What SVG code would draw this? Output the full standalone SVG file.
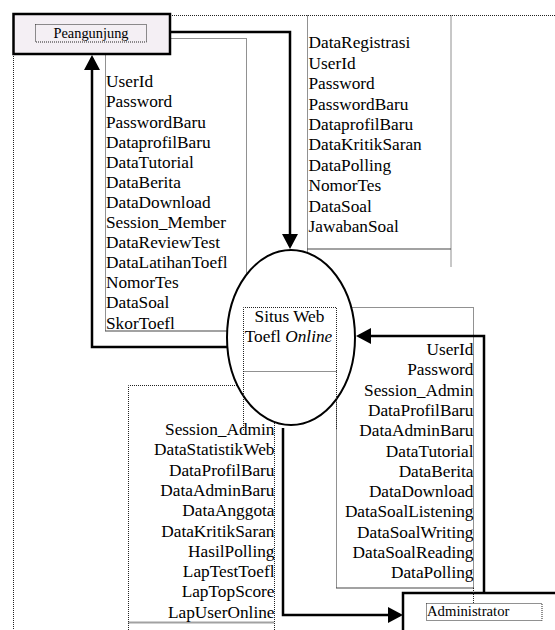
<svg xmlns="http://www.w3.org/2000/svg" width="555" height="630" viewBox="0 0 555 630">
<style>
.dot{fill:none;stroke:#222;stroke-width:1;stroke-dasharray:1 1}
.dotb{fill:none;stroke:#444;stroke-width:2;stroke-dasharray:1 1}
.flow{fill:none;stroke:#000;stroke-width:2.5;marker-end:url(#ah)}
.lbl{font-family:"Liberation Serif","Times New Roman",serif;font-size:17.3px;fill:#000}
.r{text-anchor:end}
.m{text-anchor:middle}
.ent{font-family:"Liberation Serif","Times New Roman",serif;fill:#000}
</style>
<defs>
<marker id="ah" markerUnits="userSpaceOnUse" markerWidth="16" markerHeight="16" refX="12" refY="8" orient="auto">
<path d="M0,0 L15,8 L0,16 Z" fill="#000"/>
</marker>
</defs>
<rect width="555" height="630" fill="#fff"/>

<g id="frames">
<line class="dot" x1="170" y1="15.5" x2="555" y2="15.5"/>
<line class="dot" x1="307.5" y1="15.5" x2="307.5" y2="257"/>
<line class="dot" x1="451" y1="15.5" x2="451" y2="267"/>
<line class="dotb" x1="307.5" y1="249" x2="451" y2="249"/>
<line class="dot" x1="13.5" y1="54" x2="13.5" y2="630"/>
<path class="dot" d="M105.5,38.5 H246.5 V331 M105.5,38.5 V331"/>
<line class="dotb" x1="105.5" y1="331" x2="246.5" y2="331"/>
<path class="dot" d="M128.5,630 V385.5 H274.5 V630"/>
<line class="dotb" x1="128.5" y1="622.5" x2="274.5" y2="622.5"/>
<path class="dot" d="M336.5,307.5 H473.5 V588 M336.5,307.5 V588"/>
<line class="dotb" x1="336.5" y1="588" x2="473.5" y2="588"/>
</g>

<g id="process">
<ellipse cx="291" cy="337.5" rx="64" ry="87.5" fill="#fff" stroke="#000" stroke-width="2"/>
<path class="dot" d="M243.5,430 V307.5 H336.5 V430"/>
<line class="dot" x1="243.5" y1="371.5" x2="336.5" y2="371.5"/>
<text class="lbl m" x="289.5" y="321.7">Situs Web</text>
<text class="lbl m" x="288.5" y="341.7">Toefl <tspan font-style="italic">Online</tspan></text>
</g>

<g id="connectors">
<path class="flow" d="M170,32 H290 V246"/>
<path class="flow" d="M227,347 H92 V58"/>
<path class="flow" d="M484,593 V336 H359"/>
<path class="flow" d="M283,428 V615 H400"/>
</g>

<g id="peangunjung">
<rect x="13.5" y="14" width="156.5" height="40" fill="#f4eff4" stroke="#000" stroke-width="2.5"/>
<rect class="dot" x="35.5" y="24.5" width="111" height="17.5"/>
<text class="ent m" x="91" y="38" font-size="14.4">Peangunjung</text>
</g>

<g id="administrator">
<rect x="403" y="593" width="170" height="60" fill="#fff" stroke="#000" stroke-width="2.5"/>
<line class="dot" x1="473.5" y1="588" x2="473.5" y2="603"/>
<rect class="dot" x="426.5" y="603.5" width="115.5" height="17"/>
<text class="ent" x="427" y="616" font-size="14.7">Administrator</text>
</g>

<g id="flow-peangunjung-out">
<text class="lbl" x="106" y="87.3">UserId</text>
<text class="lbl" x="106" y="107.4">Password</text>
<text class="lbl" x="106" y="127.5">PasswordBaru</text>
<text class="lbl" x="106" y="147.6">DataprofilBaru</text>
<text class="lbl" x="106" y="167.7">DataTutorial</text>
<text class="lbl" x="106" y="187.8">DataBerita</text>
<text class="lbl" x="106" y="207.9">DataDownload</text>
<text class="lbl" x="106" y="228">Session_Member</text>
<text class="lbl" x="106" y="248.1">DataReviewTest</text>
<text class="lbl" x="106" y="268.2">DataLatihanToefl</text>
<text class="lbl" x="106" y="288.3">NomorTes</text>
<text class="lbl" x="106" y="308.4">DataSoal</text>
<text class="lbl" x="106" y="328.5">SkorToefl</text>
</g>

<g id="flow-peangunjung-in">
<text class="lbl" x="308.5" y="48.3">DataRegistrasi</text>
<text class="lbl" x="308.5" y="68.7">UserId</text>
<text class="lbl" x="308.5" y="89.1">Password</text>
<text class="lbl" x="308.5" y="109.5">PasswordBaru</text>
<text class="lbl" x="308.5" y="129.9">DataprofilBaru</text>
<text class="lbl" x="308.5" y="150.3">DataKritikSaran</text>
<text class="lbl" x="308.5" y="170.7">DataPolling</text>
<text class="lbl" x="308.5" y="191.1">NomorTes</text>
<text class="lbl" x="308.5" y="211.5">DataSoal</text>
<text class="lbl" x="308.5" y="231.9">JawabanSoal</text>
</g>

<g id="flow-admin-in">
<text class="lbl r" x="473.5" y="355">UserId</text>
<text class="lbl r" x="473.5" y="375.3">Password</text>
<text class="lbl r" x="473.5" y="395.6">Session_Admin</text>
<text class="lbl r" x="473.5" y="415.9">DataProfilBaru</text>
<text class="lbl r" x="473.5" y="436.2">DataAdminBaru</text>
<text class="lbl r" x="473.5" y="456.5">DataTutorial</text>
<text class="lbl r" x="473.5" y="476.8">DataBerita</text>
<text class="lbl r" x="473.5" y="497.1">DataDownload</text>
<text class="lbl r" x="473.5" y="517.4">DataSoalListening</text>
<text class="lbl r" x="473.5" y="537.7">DataSoalWriting</text>
<text class="lbl r" x="473.5" y="558">DataSoalReading</text>
<text class="lbl r" x="473.5" y="578.3">DataPolling</text>
</g>

<g id="flow-admin-out">
<text class="lbl r" x="274.5" y="435">Session_Admin</text>
<text class="lbl r" x="274.5" y="455.3">DataStatistikWeb</text>
<text class="lbl r" x="274.5" y="475.6">DataProfilBaru</text>
<text class="lbl r" x="274.5" y="495.9">DataAdminBaru</text>
<text class="lbl r" x="274.5" y="516.2">DataAnggota</text>
<text class="lbl r" x="274.5" y="536.5">DataKritikSaran</text>
<text class="lbl r" x="274.5" y="556.8">HasilPolling</text>
<text class="lbl r" x="274.5" y="577.1">LapTestToefl</text>
<text class="lbl r" x="274.5" y="597.4">LapTopScore</text>
<text class="lbl r" x="274.5" y="617.7">LapUserOnline</text>
</g>
</svg>
